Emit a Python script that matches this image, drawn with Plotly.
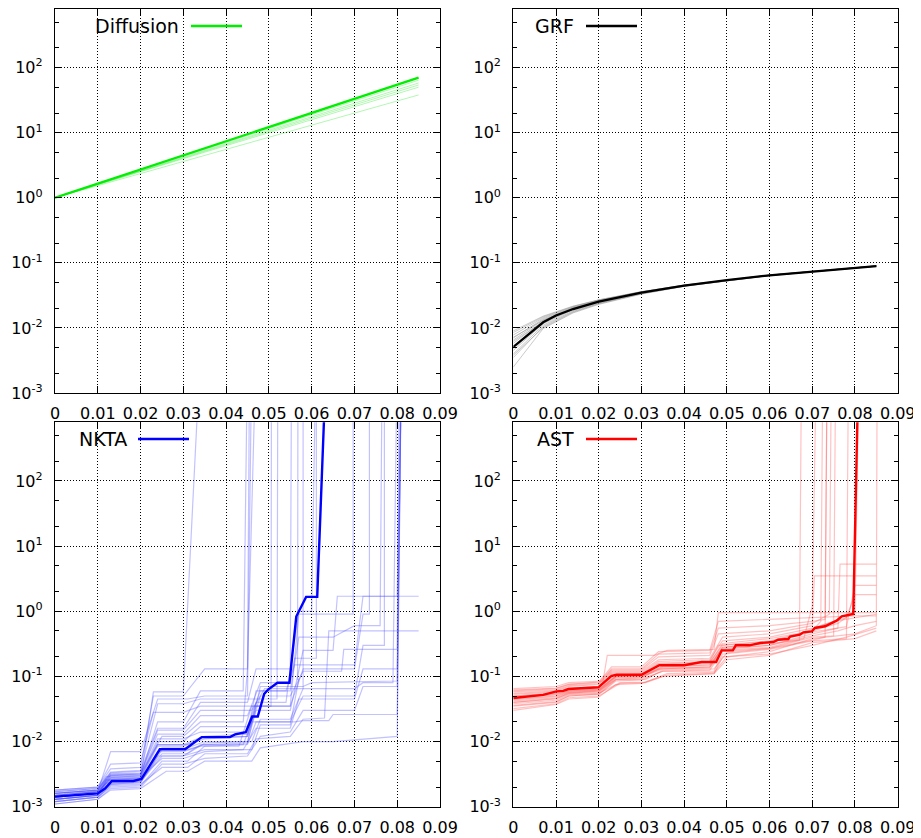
import plotly.graph_objects as go

# ---------------- data ----------------
X_TICKS = [0, 0.01, 0.02, 0.03, 0.04, 0.05, 0.06, 0.07, 0.08, 0.09]
X_TICK_TEXT = ["0", "0.01", "0.02", "0.03", "0.04", "0.05", "0.06", "0.07", "0.08", "0.09"]
Y_TICKS = [1e-3, 1e-2, 1e-1, 1e0, 1e1, 1e2]
Y_TICK_TEXT = ["10<sup>-3</sup>", "10<sup>-2</sup>", "10<sup>-1</sup>",
               "10<sup>0</sup>", "10<sup>1</sup>", "10<sup>2</sup>"]
Y_MINOR = [2e-3, 5e-3, 2e-2, 5e-2, 2e-1, 5e-1, 2, 5, 20, 50, 200, 500]

# Diffusion
DIFF_X = [0, 0.085]
DIFF_MAIN = [1.0, 70.0]
DIFF_FAINT = [[1.0, 64.0], [1.0, 58.0], [1.0, 54.0], [1.0, 50.0], [1.0, 38.0]]

# GRF
GRF_X = [0, 0.007, 0.01, 0.014, 0.02, 0.03, 0.04, 0.05, 0.06, 0.07, 0.08, 0.085]
GRF_MAIN = [0.0051, 0.0122, 0.0155, 0.0195, 0.0253, 0.0348, 0.0445, 0.0544,
            0.0643, 0.074, 0.084, 0.0893]
GRF_FAINT_X = [0, 0.007, 0.014, 0.02, 0.03, 0.04, 0.06, 0.085]
GRF_FAINT = [
    [0.0025, 0.0098, 0.0170, 0.0230, 0.0330, 0.0435, 0.0635, 0.0885],
    [0.0035, 0.0105, 0.0178, 0.0238, 0.0338, 0.0440, 0.0640, 0.0890],
    [0.0040, 0.0110, 0.0183, 0.0242, 0.0340, 0.0442, 0.0641, 0.0890],
    [0.0045, 0.0116, 0.0190, 0.0248, 0.0345, 0.0443, 0.0642, 0.0892],
    [0.0058, 0.0128, 0.0198, 0.0256, 0.0350, 0.0447, 0.0644, 0.0894],
    [0.0065, 0.0133, 0.0203, 0.0260, 0.0353, 0.0449, 0.0645, 0.0895],
    [0.0070, 0.0138, 0.0207, 0.0263, 0.0356, 0.0450, 0.0646, 0.0895],
    [0.0078, 0.0143, 0.0210, 0.0266, 0.0358, 0.0452, 0.0647, 0.0896],
    [0.0085, 0.0148, 0.0214, 0.0269, 0.0360, 0.0454, 0.0648, 0.0897],
    [0.0090, 0.0152, 0.0216, 0.0270, 0.0361, 0.0455, 0.0648, 0.0897],
    [0.0038, 0.0101, 0.0174, 0.0235, 0.0335, 0.0438, 0.0638, 0.0888],
    [0.0062, 0.0125, 0.0196, 0.0254, 0.0349, 0.0446, 0.0643, 0.0893],
    [0.0072, 0.0131, 0.0201, 0.0258, 0.0352, 0.0448, 0.0644, 0.0894],
    [0.0048, 0.0120, 0.0193, 0.0251, 0.0347, 0.0444, 0.0642, 0.0892],
]

# NKTA  (points are [x, value]; 1e4 = blow-up beyond the top of the axis)
NKTA_MAIN = [[0, 0.00143], [0.01, 0.0016], [0.0117, 0.0019], [0.0133, 0.00248],
             [0.0183, 0.00248], [0.0202, 0.00266], [0.0245, 0.0076], [0.0304, 0.0076],
             [0.0343, 0.0117], [0.0409, 0.0117], [0.0421, 0.0129], [0.0446, 0.0139],
             [0.0461, 0.0242], [0.0474, 0.0242], [0.0489, 0.0538], [0.0499, 0.0634],
             [0.052, 0.080], [0.0548, 0.080], [0.0564, 0.83], [0.0587, 1.66],
             [0.0613, 1.66], [0.0635, 1e4]]
NKTA_FAINT = [
    [[0, 0.0012], [0.01, 0.0014], [0.013, 0.0022], [0.02, 0.0024], [0.024, 0.006], [0.03, 0.006], [0.034, 0.009], [0.044, 0.009], [0.046, 0.02], [0.056, 0.02], [0.058, 0.021], [0.064, 0.021], [0.065, 0.026], [0.08, 0.026], [0.081, 1e4]],
    [[0, 0.0013], [0.01, 0.0015], [0.012, 0.0025], [0.02, 0.0027], [0.023, 0.058], [0.03, 0.058], [0.034, 1e4]],
    [[0, 0.0015], [0.01, 0.0017], [0.013, 0.007], [0.02, 0.007], [0.024, 0.045], [0.031, 0.045], [0.035, 0.05], [0.045, 0.05], [0.046, 1e4]],
    [[0, 0.0016], [0.01, 0.0018], [0.013, 0.003], [0.02, 0.0032], [0.025, 0.012], [0.03, 0.012], [0.034, 0.02], [0.044, 0.02], [0.045, 0.13], [0.047, 1e4]],
    [[0, 0.0014], [0.01, 0.0016], [0.013, 0.0028], [0.02, 0.003], [0.024, 0.009], [0.031, 0.009], [0.035, 0.011], [0.045, 0.012], [0.047, 0.04], [0.054, 0.04], [0.055, 0.13], [0.0553, 1e4]],
    [[0, 0.0011], [0.01, 0.0013], [0.013, 0.0019], [0.02, 0.002], [0.025, 0.0045], [0.03, 0.0045], [0.035, 0.0055], [0.045, 0.006], [0.048, 0.012], [0.055, 0.014], [0.058, 0.03], [0.07, 0.03], [0.072, 0.07], [0.08, 0.07], [0.081, 1e4]],
    [[0, 0.0017], [0.01, 0.0019], [0.013, 0.0034], [0.02, 0.0036], [0.024, 0.016], [0.03, 0.016], [0.034, 0.04], [0.045, 0.04], [0.047, 0.13], [0.055, 0.13], [0.057, 1.0], [0.06, 1.0], [0.061, 1e4]],
    [[0, 0.0013], [0.01, 0.0015], [0.012, 0.0023], [0.02, 0.0025], [0.024, 0.007], [0.03, 0.007], [0.034, 0.0085], [0.043, 0.0085], [0.046, 0.035], [0.055, 0.035], [0.057, 0.9], [0.0697, 0.9], [0.0697, 1e4]],
    [[0, 0.0015], [0.01, 0.0017], [0.013, 0.0026], [0.02, 0.0028], [0.025, 0.0055], [0.03, 0.0055], [0.035, 0.007], [0.044, 0.0075], [0.047, 0.016], [0.055, 0.016], [0.057, 0.045], [0.07, 0.045], [0.072, 0.13], [0.08, 0.13], [0.081, 1e4]],
    [[0, 0.0018], [0.01, 0.002], [0.013, 0.0045], [0.02, 0.0047], [0.023, 0.028], [0.03, 0.028], [0.034, 0.035], [0.0505, 0.035], [0.0506, 1e4]],
    [[0, 0.0012], [0.01, 0.0014], [0.013, 0.0021], [0.02, 0.0022], [0.025, 0.004], [0.031, 0.004], [0.035, 0.0065], [0.045, 0.0065], [0.047, 0.011], [0.055, 0.012], [0.058, 0.022], [0.063, 0.023], [0.064, 0.5], [0.085, 0.5]],
    [[0, 0.0014], [0.01, 0.0016], [0.013, 0.003], [0.02, 0.0031], [0.024, 0.011], [0.03, 0.011], [0.034, 0.014], [0.045, 0.014], [0.047, 0.06], [0.054, 0.06], [0.056, 0.15], [0.07, 0.15], [0.072, 1.7], [0.085, 1.7]],
    [[0, 0.0016], [0.01, 0.0018], [0.012, 0.0029], [0.02, 0.003], [0.024, 0.02], [0.03, 0.02], [0.034, 0.06], [0.044, 0.06], [0.045, 1e4]],
    [[0, 0.0013], [0.01, 0.0015], [0.013, 0.0024], [0.02, 0.0025], [0.025, 0.0065], [0.031, 0.0065], [0.035, 0.0095], [0.045, 0.01], [0.047, 0.03], [0.055, 0.03], [0.058, 0.25], [0.065, 0.25], [0.066, 1.7], [0.08, 1.7], [0.081, 1e4]],
    [[0, 0.0017], [0.01, 0.0019], [0.013, 0.0032], [0.02, 0.0033], [0.024, 0.013], [0.03, 0.013], [0.034, 0.025], [0.045, 0.025], [0.048, 0.08], [0.055, 0.08], [0.056, 0.19], [0.0611, 0.19], [0.0611, 1e4]],
    [[0, 0.0012], [0.01, 0.0014], [0.013, 0.002], [0.02, 0.0021], [0.025, 0.005], [0.031, 0.005], [0.035, 0.0085], [0.045, 0.009], [0.047, 0.02], [0.055, 0.02], [0.058, 0.05], [0.07, 0.05], [0.072, 0.3], [0.077, 0.3], [0.077, 1e4]],
    [[0, 0.0015], [0.01, 0.0017], [0.013, 0.0027], [0.02, 0.0028], [0.024, 0.009], [0.03, 0.009], [0.034, 0.0115], [0.045, 0.012], [0.048, 0.05], [0.055, 0.05], [0.058, 0.12], [0.067, 0.12], [0.0675, 0.26], [0.08, 0.26], [0.0805, 1e4]],
    [[0, 0.0014], [0.01, 0.0016], [0.013, 0.0025], [0.02, 0.0026], [0.025, 0.008], [0.031, 0.008], [0.035, 0.01], [0.046, 0.01], [0.048, 0.022], [0.055, 0.022], [0.058, 0.065], [0.07, 0.065], [0.072, 0.08], [0.079, 0.08], [0.08, 1e4]],
    [[0, 0.0016], [0.01, 0.0018], [0.013, 0.0033], [0.02, 0.0035], [0.024, 0.038], [0.03, 0.038], [0.034, 0.045], [0.0519, 0.045], [0.0521, 1e4]],
    [[0, 0.0013], [0.01, 0.0015], [0.013, 0.0023], [0.02, 0.0024], [0.025, 0.006], [0.03, 0.006], [0.035, 0.0075], [0.046, 0.0075], [0.048, 0.018], [0.055, 0.018], [0.057, 0.09], [0.0567, 0.09], [0.0568, 1e4]],
    [[0, 0.0011], [0.01, 0.0013], [0.013, 0.0018], [0.02, 0.0019], [0.026, 0.0035], [0.031, 0.0035], [0.035, 0.005], [0.046, 0.005], [0.048, 0.008], [0.058, 0.01], [0.065, 0.01], [0.08, 0.012], [0.081, 1e4]],
    [[0, 0.0018], [0.01, 0.002], [0.013, 0.0038], [0.02, 0.004], [0.023, 0.05], [0.03, 0.05], [0.035, 0.13], [0.045, 0.13], [0.0455, 1e4]],
    [[0, 0.0015], [0.01, 0.0017], [0.013, 0.0028], [0.02, 0.0029], [0.024, 0.01], [0.03, 0.01], [0.034, 0.017], [0.045, 0.017], [0.048, 0.06], [0.055, 0.06], [0.057, 0.4], [0.065, 0.4], [0.07, 0.6], [0.076, 0.6], [0.0765, 1e4]],
    [[0, 0.0014], [0.01, 0.0016], [0.012, 0.0026], [0.02, 0.0027], [0.024, 0.0085], [0.03, 0.0085], [0.035, 0.012], [0.045, 0.013], [0.047, 0.035], [0.055, 0.035], [0.058, 0.13], [0.07, 0.13], [0.072, 0.9], [0.0735, 0.9], [0.0735, 1e4]],
    [[0, 0.0013], [0.01, 0.0015], [0.013, 0.0022], [0.02, 0.0023], [0.025, 0.0075], [0.031, 0.0075], [0.035, 0.009], [0.045, 0.0095], [0.048, 0.07], [0.058, 0.07], [0.06, 0.08], [0.08, 0.085], [0.081, 1e4]],
    [[0, 0.0016], [0.01, 0.0018], [0.013, 0.0031], [0.02, 0.0032], [0.024, 0.015], [0.03, 0.015], [0.034, 0.03], [0.046, 0.03], [0.049, 0.065], [0.058, 0.065], [0.0580, 1e4]],
]

# AST
AST_MAIN = [[0, 0.0465], [0.007, 0.052], [0.0101, 0.0588], [0.0117, 0.060], [0.0129, 0.064],
            [0.0199, 0.068], [0.023, 0.102], [0.0242, 0.106], [0.030, 0.106], [0.0342, 0.148],
            [0.040, 0.148], [0.0422, 0.157], [0.0441, 0.166], [0.0475, 0.166], [0.0488, 0.251],
            [0.0514, 0.251], [0.0521, 0.30], [0.0553, 0.30], [0.0578, 0.326], [0.0609, 0.337],
            [0.062, 0.366], [0.0644, 0.375], [0.0648, 0.41], [0.0671, 0.437], [0.0679, 0.475],
            [0.0699, 0.49], [0.0706, 0.554], [0.073, 0.588], [0.0757, 0.718], [0.0769, 0.838],
            [0.0796, 0.91], [0.0809, 1e4]]
AST_FAINT = [
    [[0, 0.03], [0.01, 0.037], [0.013, 0.045], [0.02, 0.048], [0.024, 0.075], [0.03, 0.078], [0.035, 0.1], [0.047, 0.11], [0.049, 0.2], [0.06, 0.22], [0.07, 0.3], [0.078, 0.4], [0.085, 0.55]],
    [[0, 0.065], [0.01, 0.07], [0.013, 0.08], [0.021, 0.085], [0.022, 0.21], [0.033, 0.21], [0.036, 0.25], [0.047, 0.26], [0.048, 0.95], [0.085, 0.95]],
    [[0, 0.04], [0.01, 0.045], [0.013, 0.055], [0.02, 0.06], [0.024, 0.09], [0.03, 0.095], [0.034, 0.13], [0.046, 0.14], [0.049, 0.28], [0.06, 0.32], [0.067, 0.36], [0.0675, 1e4]],
    [[0, 0.055], [0.01, 0.06], [0.013, 0.07], [0.02, 0.075], [0.023, 0.12], [0.03, 0.12], [0.034, 0.18], [0.046, 0.19], [0.049, 0.4], [0.06, 0.45], [0.07, 0.6], [0.0705, 3.5], [0.085, 3.5]],
    [[0, 0.035], [0.01, 0.04], [0.013, 0.05], [0.02, 0.053], [0.024, 0.085], [0.03, 0.088], [0.035, 0.12], [0.047, 0.12], [0.049, 0.22], [0.06, 0.26], [0.07, 0.35], [0.078, 0.38], [0.0785, 1e4]],
    [[0, 0.05], [0.01, 0.055], [0.013, 0.062], [0.02, 0.066], [0.023, 0.11], [0.03, 0.11], [0.034, 0.16], [0.046, 0.17], [0.048, 0.3], [0.06, 0.35], [0.07, 0.5], [0.072, 0.7], [0.0725, 1e4]],
    [[0, 0.045], [0.01, 0.05], [0.013, 0.058], [0.02, 0.062], [0.024, 0.1], [0.03, 0.1], [0.035, 0.14], [0.046, 0.15], [0.049, 0.27], [0.06, 0.3], [0.07, 0.45], [0.076, 0.55], [0.0765, 5.3], [0.085, 5.3]],
    [[0, 0.06], [0.01, 0.065], [0.013, 0.075], [0.02, 0.08], [0.023, 0.13], [0.03, 0.13], [0.034, 0.22], [0.046, 0.23], [0.048, 0.55], [0.06, 0.6], [0.07, 0.7], [0.073, 0.75], [0.0735, 1e4]],
    [[0, 0.038], [0.01, 0.043], [0.013, 0.052], [0.02, 0.055], [0.025, 0.08], [0.031, 0.082], [0.036, 0.11], [0.047, 0.115], [0.05, 0.2], [0.06, 0.24], [0.07, 0.38], [0.08, 0.45], [0.085, 0.6], [0.0852, 1e4]],
    [[0, 0.048], [0.01, 0.053], [0.013, 0.06], [0.02, 0.064], [0.024, 0.1], [0.03, 0.105], [0.034, 0.15], [0.046, 0.16], [0.049, 0.32], [0.06, 0.38], [0.07, 0.5], [0.076, 0.65], [0.08, 1.0], [0.081, 1e4]],
    [[0, 0.042], [0.01, 0.047], [0.013, 0.056], [0.02, 0.059], [0.024, 0.095], [0.03, 0.097], [0.035, 0.13], [0.046, 0.135], [0.049, 0.25], [0.06, 0.28], [0.068, 0.38], [0.07, 1.2], [0.071, 1e4]],
    [[0, 0.053], [0.01, 0.058], [0.013, 0.067], [0.02, 0.07], [0.023, 0.115], [0.03, 0.115], [0.034, 0.17], [0.046, 0.18], [0.049, 0.35], [0.06, 0.4], [0.07, 0.55], [0.078, 0.8], [0.08, 1.8], [0.085, 1.8]],
    [[0, 0.032], [0.01, 0.038], [0.013, 0.047], [0.02, 0.05], [0.025, 0.078], [0.031, 0.08], [0.036, 0.105], [0.047, 0.11], [0.05, 0.18], [0.06, 0.21], [0.07, 0.33], [0.08, 0.38], [0.085, 0.5]],
    [[0, 0.058], [0.01, 0.062], [0.013, 0.072], [0.02, 0.077], [0.023, 0.125], [0.03, 0.125], [0.034, 0.2], [0.046, 0.21], [0.048, 0.45], [0.06, 0.5], [0.07, 0.65], [0.074, 0.9], [0.0745, 1e4]],
    [[0, 0.044], [0.01, 0.049], [0.013, 0.057], [0.02, 0.061], [0.024, 0.097], [0.03, 0.1], [0.035, 0.135], [0.046, 0.14], [0.049, 0.26], [0.06, 0.3], [0.07, 0.42], [0.076, 0.5], [0.08, 0.6], [0.085, 0.7]],
    [[0, 0.05], [0.01, 0.056], [0.013, 0.064], [0.02, 0.068], [0.024, 0.105], [0.03, 0.108], [0.034, 0.155], [0.046, 0.165], [0.049, 0.3], [0.06, 0.34], [0.067, 0.45], [0.075, 0.7], [0.085, 0.9]],
    [[0, 0.036], [0.01, 0.041], [0.013, 0.05], [0.02, 0.054], [0.024, 0.088], [0.031, 0.09], [0.035, 0.125], [0.047, 0.13], [0.05, 0.23], [0.06, 0.27], [0.07, 0.4], [0.075, 0.42], [0.0755, 1e4]],
    [[0, 0.062], [0.01, 0.066], [0.013, 0.076], [0.02, 0.082], [0.023, 0.14], [0.03, 0.14], [0.034, 0.24], [0.046, 0.25], [0.048, 0.7], [0.06, 0.75], [0.07, 0.8], [0.08, 0.85], [0.085, 0.85]],
    [[0, 0.047], [0.01, 0.052], [0.013, 0.06], [0.02, 0.063], [0.024, 0.1], [0.03, 0.103], [0.035, 0.145], [0.046, 0.15], [0.049, 0.28], [0.06, 0.33], [0.07, 0.48], [0.078, 0.58], [0.08, 2.5], [0.085, 2.5]],
    [[0, 0.04], [0.01, 0.046], [0.013, 0.054], [0.02, 0.057], [0.024, 0.09], [0.03, 0.092], [0.035, 0.12], [0.046, 0.125], [0.049, 0.24], [0.06, 0.27], [0.07, 0.36], [0.073, 0.4], [0.0735, 1e4]],
]

# ---------------- figure ----------------
# the page body has an 8px margin, so the figure starts at (8, 8) in the window
OFF = 8
W, H = 913, 830

def px(xp):
    return (xp - OFF) / W

def py(yp):
    return 1 - (yp - OFF) / H

XDOM_L = [px(55), px(440)]
XDOM_R = [px(513.3), px(897.7)]
YDOM_T = [py(393), py(9)]
YDOM_B = [py(806.7), py(422.3)]

fig = go.Figure()

def add_line(xs, ys, axis, color, width):
    fig.add_trace(go.Scatter(x=xs, y=ys, mode="lines", xaxis="x" + axis, yaxis="y" + axis,
                             line=dict(color=color, width=width), showlegend=False,
                             hoverinfo="skip"))

def add_pts(pts, axis, color, width):
    add_line([p[0] for p in pts], [p[1] for p in pts], axis, color, width)

# panel 1: Diffusion
for ys in DIFF_FAINT:
    add_line(DIFF_X, ys, "", "rgba(0,230,0,0.3)", 1)
add_line(DIFF_X, DIFF_MAIN, "", "#00ee00", 2.3)

# panel 2: GRF
for ys in GRF_FAINT:
    add_line(GRF_FAINT_X, ys, "2", "rgba(150,150,150,0.5)", 1)
add_line(GRF_X, GRF_MAIN, "2", "#000000", 2.3)

# panel 3: NKTA
for pts in NKTA_FAINT:
    add_pts(pts, "3", "rgba(70,70,255,0.33)", 1.2)
add_pts(NKTA_MAIN, "3", "#0000ff", 2.4)

# panel 4: AST
for pts in AST_FAINT:
    add_pts(pts, "4", "rgba(255,70,70,0.33)", 1.2)
add_pts(AST_MAIN, "4", "#ff0000", 2.4)

font = dict(family="DejaVu Sans", size=16, color="black")

def xaxis(dom, anchor):
    return dict(domain=dom, anchor=anchor, range=[0, 0.09], tickmode="array",
                tickvals=X_TICKS, ticktext=X_TICK_TEXT, ticks="inside", ticklen=7,
                tickwidth=1, tickcolor="black", mirror="allticks", showline=True,
                linecolor="black", linewidth=1.3, showgrid=True, gridcolor="black",
                griddash="1px,2px", gridwidth=1, zeroline=False, tickfont=font,
                ticklabelstandoff=6, automargin=False)

def yaxis(dom, anchor):
    return dict(domain=dom, anchor=anchor, type="log", range=[-3, 2.9], tickmode="array",
                tickvals=Y_TICKS, ticktext=Y_TICK_TEXT, ticks="inside", ticklen=7,
                tickwidth=1, tickcolor="black", mirror="allticks", showline=True,
                linecolor="black", linewidth=1.3, showgrid=True, gridcolor="black",
                griddash="1px,2px", gridwidth=1, zeroline=False, tickfont=font,
                ticklabelstandoff=8, automargin=False,
                minor=dict(tickmode="array", tickvals=Y_MINOR, ticks="inside", ticklen=4,
                           tickcolor="black", tickwidth=1, showgrid=False))

fig.update_layout(
    width=W, height=H, margin=dict(l=0, r=0, t=0, b=0, autoexpand=False),
    paper_bgcolor="white", plot_bgcolor="white", font=font, showlegend=False,
    xaxis=xaxis(XDOM_L, "y"), yaxis=yaxis(YDOM_T, "x"),
    xaxis2=xaxis(XDOM_R, "y2"), yaxis2=yaxis(YDOM_T, "x2"),
    xaxis3=xaxis(XDOM_L, "y3"), yaxis3=yaxis(YDOM_B, "x3"),
    xaxis4=xaxis(XDOM_R, "y4"), yaxis4=yaxis(YDOM_B, "x4"),
)

# keys: text, then a line sample (window pixel positions)
KEYS = [("Diffusion", 181, 191, 242, 26, "#00ee00"),
        ("GRF", 576, 586, 637, 26, "#000000"),
        ("NKTA", 129, 138, 189, 439, "#0000ff"),
        ("AST", 576, 586, 637, 439, "#ff0000")]
for name, tx, l0, l1, ky, col in KEYS:
    fig.add_annotation(x=px(tx), y=py(ky), xref="paper", yref="paper", text=name,
                       showarrow=False, xanchor="right", yanchor="middle",
                       font=dict(family="DejaVu Sans", size=19, color="black"))
    fig.add_shape(type="line", xref="paper", yref="paper", x0=px(l0), x1=px(l1),
                  y0=py(ky), y1=py(ky), line=dict(color=col, width=2.3))

fig.write_html("out.html")
